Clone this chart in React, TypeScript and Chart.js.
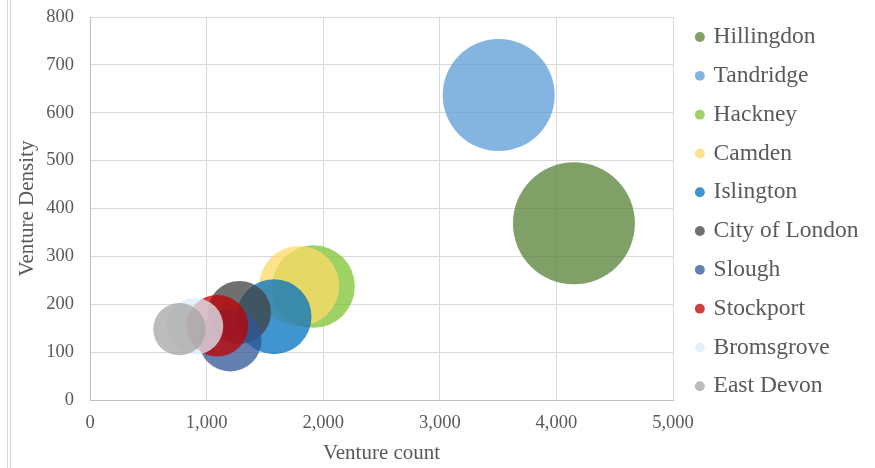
import React, { useEffect, useRef } from "react";
import { Chart, registerables } from "chart.js";

Chart.register(...registerables);

const boroughs = [
  "Hillingdon",
  "Tandridge",
  "Hackney",
  "Camden",
  "Islington",
  "City of London",
  "Slough",
  "Stockport",
  "Bromsgrove",
  "East Devon",
];
const ventureCount = [4150, 3505, 1917, 1794, 1578, 1281, 1202, 1092, 900, 767];
const ventureDensity = [369, 637, 237, 238, 174, 183, 125, 155, 154, 148];
const bubbleRadius = [61, 56, 41.3, 40, 37.5, 31.5, 31.3, 30.8, 28.3, 26.2];
const colors = [
  "rgba(84,130,53,0.75)",
  "rgba(91,155,213,0.75)",
  "rgba(125,195,50,0.75)",
  "rgba(255,217,102,0.75)",
  "rgba(0,112,192,0.75)",
  "rgba(64,64,64,0.75)",
  "rgba(47,85,151,0.75)",
  "rgba(192,0,0,0.75)",
  "rgba(222,235,247,0.75)",
  "rgba(165,165,165,0.75)",
];
const xTicks = [0, 1000, 2000, 3000, 4000, 5000];
const yTicks = [0, 100, 200, 300, 400, 500, 600, 700, 800];

const FONT = "'Liberation Serif', 'Times New Roman', serif";
const TEXT = "#595959";

const frameLines = {
  id: "frameLines",
  beforeDraw(chart: any) {
    const ctx = chart.ctx;
    ctx.save();
    ctx.strokeStyle = "#d9d9d9";
    ctx.lineWidth = 1;
    [7.5, 10.5].forEach((x) => {
      ctx.beginPath();
      ctx.moveTo(x, 0);
      ctx.lineTo(x, chart.height);
      ctx.stroke();
    });
    ctx.restore();
  },
};

export default function App() {
  const ref = useRef<HTMLCanvasElement | null>(null);

  useEffect(() => {
    if (!ref.current) return;
    const n = boroughs.length;
    const chart = new Chart(ref.current, {
      type: "bubble",
      data: {
        datasets: boroughs.map((name, i) => ({
          label: name,
          data: [{ x: ventureCount[i], y: ventureDensity[i], r: bubbleRadius[i] }],
          backgroundColor: colors[i],
          borderWidth: 0,
          hoverBorderWidth: 0,
          pointStyle: "circle",
          order: n - 1 - i,
        })),
      },
      options: {
        responsive: false,
        animation: false,
        events: [],
        layout: { autoPadding: false, padding: { top: 10, left: 12, right: 6.5, bottom: 0 } },
        plugins: {
          tooltip: { enabled: false },
          legend: {
            position: "right",
            align: "start",
            maxWidth: 300,
            labels: {
              usePointStyle: true,
              boxWidth: 4,
              boxHeight: 7,
              padding: 15.3,
              color: TEXT,
              font: { family: FONT, size: 23.5 },
              sort: (a: any, b: any) => a.datasetIndex - b.datasetIndex,
            },
          },
        },
        scales: {
          x: {
            type: "linear",
            min: xTicks[0],
            max: xTicks[xTicks.length - 1],
            afterBuildTicks: (s: any) => {
              s.ticks = xTicks.map((v) => ({ value: v }));
            },
            afterFit: (s: any) => {
              s.height = 68;
            },
            grid: { color: "#d9d9d9", lineWidth: 1, drawTicks: false },
            border: { color: "#bfbfbf", width: 1 },
            ticks: {
              padding: 12,
              color: TEXT,
              font: { family: FONT, size: 18.5 },
              callback: (v: any) => Number(v).toLocaleString("en-US"),
            },
            title: {
              display: true,
              text: "Venture count",
              color: TEXT,
              font: { family: FONT, size: 21 },
              padding: { top: 0, bottom: 2 },
            },
          },
          y: {
            type: "linear",
            min: yTicks[0],
            max: yTicks[yTicks.length - 1],
            afterBuildTicks: (s: any) => {
              s.ticks = yTicks.map((v) => ({ value: v }));
            },
            afterFit: (s: any) => {
              s.width = 78;
              s.paddingTop = 17;
              s.paddingBottom = 0;
            },
            grid: { color: "#d9d9d9", lineWidth: 1, drawTicks: false },
            border: { color: "#bfbfbf", width: 1 },
            ticks: {
              padding: 16,
              color: TEXT,
              font: { family: FONT, size: 18.5 },
            },
            title: {
              display: true,
              text: "Venture Density",
              color: TEXT,
              font: { family: FONT, size: 21 },
              padding: { top: 3, bottom: 0 },
            },
          },
          gap: {
            type: "linear",
            position: "right",
            display: true,
            grid: { display: false },
            border: { display: false },
            ticks: { display: false },
            afterFit: (s: any) => {
              s.width = 9.5;
            },
          },
        },
      } as any,
      plugins: [frameLines],
    });
    return () => chart.destroy();
  }, []);

  return (
    <div style={{ position: "absolute", left: 0, top: 0, width: 875, height: 468, background: "#fff" }}>
      <canvas ref={ref} width={875} height={468} style={{ display: "block" }} />
    </div>
  );
}
